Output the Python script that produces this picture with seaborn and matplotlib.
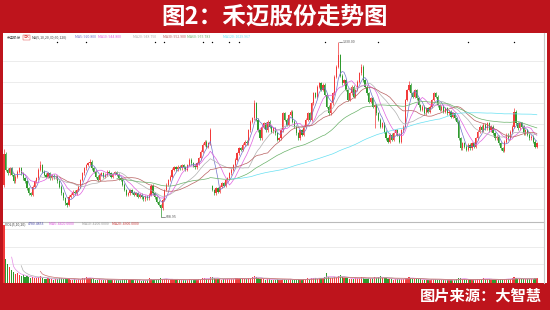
import numpy as np
import pandas as pd
import matplotlib
matplotlib.use("Agg")
import matplotlib.pyplot as plt
import seaborn as sns
from matplotlib.patches import Rectangle

# ---------------- data ----------------
close = [
    870, 803, 789, 810, 782, 755, 775, 796, 810, 789,
    768, 755, 727, 707, 700, 734, 755, 768, 803, 823,
    796, 782, 775, 789, 768, 778, 772, 775, 755, 734,
    707, 686, 665, 658, 693, 700, 713, 707, 720, 734,
    761, 789, 810, 823, 830, 837, 810, 796, 775, 761,
    782, 789, 775, 782, 796, 789, 775, 786, 794, 782,
    768, 761, 741, 720, 700, 707, 720, 709, 700, 707,
    693, 700, 690, 682, 693, 686, 700, 737, 707, 690,
    672, 658, 645, 679, 720, 741, 761, 775, 803, 814,
    805, 816, 810, 823, 814, 803, 823, 844, 830, 819,
    814, 830, 851, 878, 906, 919, 899, 913, 967, 720,
    707, 727, 713, 734, 748, 737, 761, 768, 789, 803,
    823, 844, 871, 892, 885, 906, 919, 913, 967, 1002,
    1016, 1077, 1009, 967, 933, 981, 995, 967, 1002, 981,
    961, 974, 954, 926, 933, 967, 1036, 1009, 988, 1029,
    1043, 1002, 981, 954, 933, 967, 947, 981, 1009, 1036,
    1009, 1077, 1118, 1105, 1146, 1160, 1132, 1153, 1112, 1064,
    1036, 1077, 1118, 1187, 1228, 1276, 1190, 1160, 1173, 1132,
    1091, 1118, 1146, 1105, 1132, 1167, 1201, 1228, 1173, 1146,
    1118, 1084, 1098, 1064, 1070, 1036, 1009, 981, 995, 961,
    933, 919, 947, 926, 954, 967, 947, 919, 967, 981,
    1091, 1132, 1153, 1118, 1105, 1132, 1098, 1070, 1050, 1064,
    1036, 1057, 1043, 1064, 1091, 1118, 1105, 1070, 1050, 1064,
    1043, 1057, 1036, 1043, 1022, 1036, 1016, 1002, 933, 892,
    913, 899, 885, 906, 892, 913, 899, 933, 961, 981,
    967, 988, 974, 995, 967, 981, 954, 933, 940, 913,
    892, 882, 919, 947, 933, 961, 981, 1043, 995, 974,
    995, 981, 954, 967, 947, 933, 940, 919, 899, 913,
]
open_first = 740
open_gaps = {109: 735}
high_marks = {0: 890, 19: 838, 45: 846, 77: 745, 108: 976, 131: 1091,
              175: 1330, 187: 1240, 212: 1170, 267: 1058}
low_marks = {82: 608.95, 33: 648, 194: 974}

volume = [
    58, 24, 19, 16, 13, 11, 9, 10, 8, 7, 8, 6, 7, 6, 5, 6, 5, 5, 6, 7,
    5, 4, 4, 5, 4, 4, 3, 4, 4, 5, 5, 4, 5, 4, 4, 3, 3, 4, 3, 4,
    4, 5, 5, 6, 5, 5, 4, 4, 3, 3, 4, 3, 3, 3, 4, 3, 3, 3, 3, 3,
    3, 3, 4, 4, 4, 3, 3, 3, 3, 3, 3, 3, 2, 3, 3, 3, 5, 4, 3, 3,
    3, 4, 5, 4, 4, 4, 3, 4, 4, 3, 3, 3, 3, 3, 3, 3, 3, 4, 3, 3,
    3, 3, 4, 4, 5, 5, 4, 4, 6, 6, 5, 4, 4, 4, 3, 4, 4, 4, 4, 4,
    4, 5, 5, 4, 4, 4, 4, 4, 5, 5, 6, 7, 6, 5, 4, 4, 4, 3, 4, 4,
    3, 3, 3, 4, 3, 3, 4, 4, 3, 4, 4, 3, 3, 3, 4, 3, 3, 4, 4, 5,
    4, 5, 5, 5, 4, 5, 5, 5, 6, 10, 6, 5, 5, 6, 6, 7, 8, 6, 5, 5,
    5, 4, 4, 4, 5, 5, 5, 6, 5, 4, 4, 5, 5, 5, 6, 5, 6, 7, 5, 5,
    5, 4, 4, 4, 3, 4, 4, 4, 4, 4, 5, 5, 6, 5, 4, 4, 4, 4, 4, 3,
    3, 3, 3, 3, 4, 4, 4, 3, 3, 3, 3, 3, 3, 3, 3, 3, 3, 4, 5, 5,
    4, 4, 3, 3, 3, 3, 3, 3, 4, 4, 4, 5, 4, 4, 4, 3, 3, 3, 3, 3,
    4, 4, 4, 4, 4, 4, 5, 6, 5, 4, 4, 4, 4, 4, 4, 4, 4, 4, 5, 5,
]
event_idx = [28, 43, 79, 84, 104, 109, 118, 123, 168, 196, 243, 267]
ma_windows = [5, 10, 20, 30, 60, 120]
ma_colors = ["#7272CC", "#E060E0", "#B0B0B0", "#B86060", "#6AB26A", "#66E0F2"]
vol_windows = [5, 10, 20]
vol_colors = ["#E58AE5", "#B0B0B0", "#CC7070"]
title = "图2：禾迈股份走势图"
source = "图片来源：大智慧"
stock_name = "禾迈股份"

RED = "#BE141C"
UP = "#F23A3A"
DOWN = "#2E9A2E"

# ---------------- style ----------------
sns.set_theme(style="white")
plt.rcParams['font.family'] = ['Noto Sans CJK SC', 'DejaVu Sans']

N = len(close)
idx = np.arange(N)
c = np.array(close, dtype=float)
o = np.r_[open_first, c[:-1]]
for k, v in open_gaps.items():
    o[k] = v
WICK = 6
hi = np.maximum(o, c) + WICK
lo = np.minimum(o, c) - WICK
for k, v in high_marks.items():
    hi[k] = v
for k, v in low_marks.items():
    lo[k] = v
up = c >= o
cols = np.where(up, UP, DOWN)

df = pd.DataFrame({"i": idx, "close": c, "vol": np.array(volume[:N], float)})
for w in ma_windows:
    df[f"MA{w}"] = df["close"].rolling(w).mean()
for w in vol_windows:
    df[f"V{w}"] = df["vol"].rolling(w).mean()

W, H = 550, 310
fx = lambda px: px / W
fy = lambda py: 1 - py / H

fig = plt.figure(figsize=(5.5, 3.1), dpi=100, facecolor=RED)
fig.patches.append(Rectangle((fx(3), fy(283)), (547 - 3) / W, (283 - 33) / H,
                             transform=fig.transFigure, facecolor="white",
                             edgecolor="none", zorder=-5))

ax = fig.add_axes([fx(3), fy(222), (544 - 3) / W, (222 - 33) / H])
axv = fig.add_axes([fx(3), fy(283), (544 - 3) / W, (283 - 222) / H])
for a in (ax, axv):
    a.set_zorder(2)
    a.set_facecolor("none")
    a.tick_params(left=False, labelleft=False, bottom=False, labelbottom=False)
    for s in ("top", "left"):
        a.spines[s].set_visible(False)
    a.spines["right"].set_color("#C8C8C8")
    a.spines["right"].set_linewidth(0.8)
ax.spines["bottom"].set_color("#BBBBBB")
ax.spines["bottom"].set_linewidth(0.8)
axv.spines["bottom"].set_visible(False)

# candles
ax.vlines(idx, lo, hi, colors=cols, lw=0.5, zorder=2)
ax.bar(idx, np.maximum(np.abs(c - o), 2.0), bottom=np.minimum(o, c),
       width=0.62, color=cols, lw=0, zorder=3)

# moving averages
for w, col in zip(ma_windows, ma_colors):
    sns.lineplot(data=df, x="i", y=f"MA{w}", ax=ax, color=col, lw=0.5,
                 zorder=4, legend=False)

# volume
axv.bar(idx, df["vol"], width=0.62, color=cols, lw=0, zorder=2)
for w, col in zip(vol_windows, vol_colors):
    sns.lineplot(data=df, x="i", y=f"V{w}", ax=axv, color=col, lw=0.5,
                 zorder=3, legend=False)

for a in (ax, axv):
    a.set_xlabel("")
    a.set_ylabel("")
    a.set_xlim(-0.52, 282.7)
    a.set_xticks([])

ax.set_ylim(588, 1367)
ax.set_yticks([642, 729, 816, 904, 991, 1078, 1166, 1253])
ax.yaxis.grid(True, color="#ECECEC", lw=0.7)
axv.set_ylim(0, 61)
axv.set_yticks([19, 36, 54])
axv.yaxis.grid(True, color="#ECECEC", lw=0.7)
ax.set_axisbelow(True)
axv.set_axisbelow(True)

# event markers
ax.plot(event_idx, [0.952] * len(event_idx), "o", ms=1.0, mew=0, color="black",
        transform=ax.get_xaxis_transform(), clip_on=False, zorder=5)

# high / low annotations
ax.plot([175.3, 177.2], [1330, 1330], color="#666666", lw=0.5, zorder=5)
ax.text(177.5, 1330, "1330.00", fontsize=2.6, color="#555555", va="center")
ax.plot([82.3, 84.2], [608.95, 608.95], color="#666666", lw=0.5, zorder=5)
ax.text(84.5, 608.95, "608.95", fontsize=2.6, color="#555555", va="center")

# tiny legend texts
fs = 2.5
y1 = fy(37.5)
fig.text(fx(7), y1, stock_name, fontsize=fs, color="#555555", va="center")
fig.text(fx(23.5), y1, "日K", fontsize=fs, color="#E03030", va="center",
         bbox=dict(boxstyle="square,pad=0.15", fc="none", ec="#E03030", lw=0.3))
fig.text(fx(32), y1, "MA(5,10,20,30,60,120)", fontsize=fs, color="#444444", va="center")
ma_pos = [75, 98, 133, 163, 187, 223]
for w, col, px in zip(ma_windows, ma_colors, ma_pos):
    fig.text(fx(px), y1, f"MA{w}: {df[f'MA{w}'].iloc[-1]:.3f}", fontsize=fs,
             color=col, va="center")

y2 = fy(224)
fig.text(fx(5), y2, "VOL(5,10,20)", fontsize=fs, color="#444444", va="center")
fig.text(fx(28), y2, "4780.4853", fontsize=fs, color="#5050B0", va="center")
vol_pos = [49, 82, 112]
for w, col, px in zip(vol_windows, ["#E050E0", "#999999", "#D04040"], vol_pos):
    fig.text(fx(px), y2, f"MA{w}: {df[f'V{w}'].iloc[-1] * 1000:.4f}",
             fontsize=fs, color=col, va="center")

# title and source
fig.text(0.5, fy(17), title, color="white", fontsize=17, fontweight="bold",
         ha="center", va="center")
fig.text(fx(542), fy(296), source, color="white", fontsize=11,
         fontweight="bold", ha="right", va="center")

fig.savefig("out.png", dpi=100, facecolor=RED)
